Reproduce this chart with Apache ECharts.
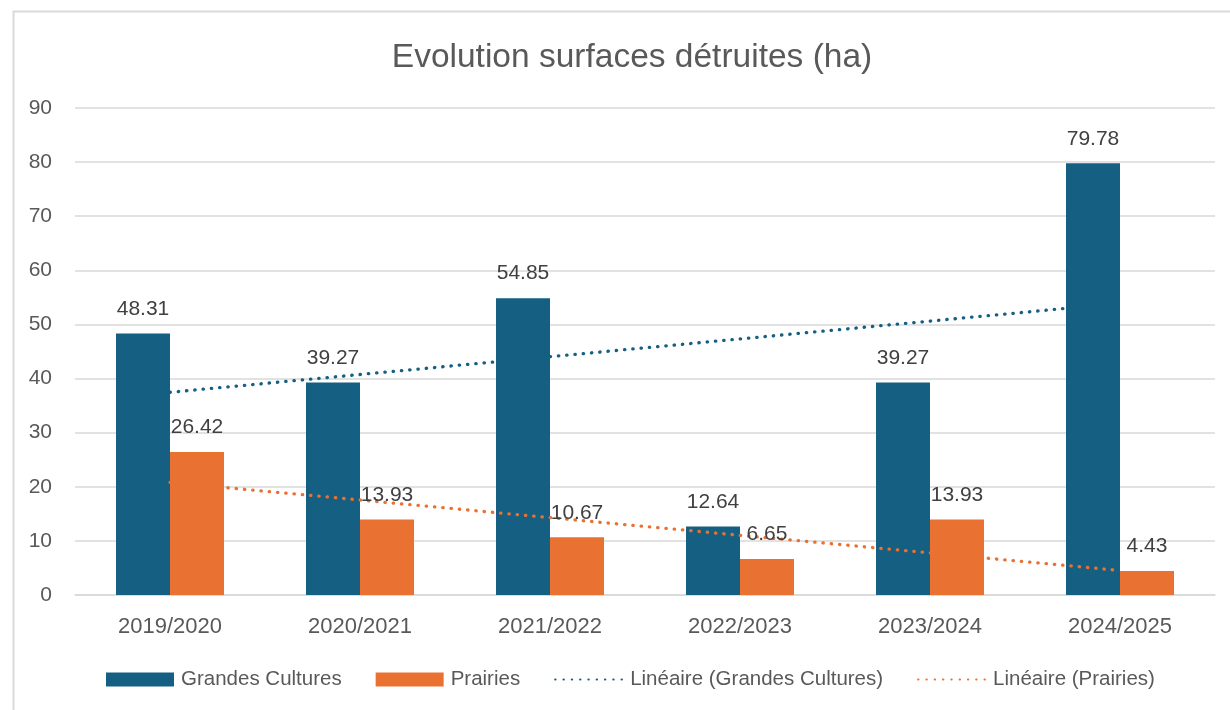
<!DOCTYPE html>
<html>
<head>
<meta charset="utf-8">
<script src="https://cdn.jsdelivr.net/npm/echarts@6/dist/echarts.min.js"></script>
<style>
html,body{margin:0;padding:0;background:#fff;}
#chart{width:1230px;height:710px;}
</style>
</head>
<body>
<div id="chart"></div>
<script>
var categories = ['2019/2020', '2020/2021', '2021/2022', '2022/2023', '2023/2024', '2024/2025'];
var grandesCultures = [48.31, 39.27, 54.85, 12.64, 39.27, 79.78];
var prairies = [26.42, 13.93, 10.67, 6.65, 13.93, 4.43];
// linear trend lines
var trendGrandesCultures = [37.46, 40.75, 44.04, 47.33, 50.62, 53.91];
var trendPrairies = [20.81, 17.56, 14.30, 11.04, 7.79, 4.53];
var seriesNames = ['Grandes Cultures', 'Prairies', 'Linéaire (Grandes Cultures)', 'Linéaire (Prairies)'];
var titleText = 'Evolution surfaces détruites (ha)';

var BLUE = '#156082', ORANGE = '#E97132';
var FONT = '"Liberation Sans", Arial, sans-serif';

var chart = echarts.init(document.getElementById('chart'), null, {renderer: 'canvas'});
var dotted = function (c) {
  return {color: c, width: 3.3, type: [0.4, 7.9], cap: 'round'};
};
var labelStyle = {show: true, position: 'top', distance: 14, color: '#404040', fontSize: 21, fontFamily: FONT,
  formatter: function (p) { return p.value.toFixed(2); }};

chart.setOption({
  animation: false,
  backgroundColor: '#ffffff',
  textStyle: {fontFamily: FONT},
  title: {
    text: titleText, left: 627, top: 36, textAlign: 'center',
    textStyle: {fontSize: 33.5, fontWeight: 'normal', color: '#595959', fontFamily: FONT}
  },
  graphic: [{
    type: 'rect', left: 11, top: 9, silent: true, z: -1,
    shape: {x: 0, y: 0, width: 1400, height: 900},
    style: {fill: 'none', stroke: '#d9d9d9', lineWidth: 2}
  }],
  grid: {left: 75, right: 15, top: 108, bottom: 115, containLabel: false},
  legend: {
    left: 106, top: 669, itemWidth: 68, itemHeight: 14, itemGap: 34, padding: 0,
    textStyle: {fontSize: 20.5, color: '#595959', fontFamily: FONT, padding: [0, 0, 0, 2]},
    data: [
      {name: seriesNames[0], icon: 'rect'},
      {name: seriesNames[1], icon: 'rect'},
      {name: seriesNames[2], itemStyle: {opacity: 0}},
      {name: seriesNames[3], itemStyle: {opacity: 0}}
    ]
  },
  xAxis: {
    type: 'category', data: categories,
    axisLine: {lineStyle: {color: '#d9d9d9', width: 1.5}},
    axisTick: {show: false},
    axisLabel: {fontSize: 22, color: '#595959', margin: 21, fontFamily: FONT}
  },
  yAxis: {
    type: 'value', min: 0, max: 90, interval: 10,
    axisLine: {show: false}, axisTick: {show: false},
    splitLine: {lineStyle: {color: '#d9d9d9', width: 1.5}},
    axisLabel: {fontSize: 21, color: '#595959', margin: 23, fontFamily: FONT}
  },
  series: [
    {
      name: seriesNames[2], type: 'line', data: trendGrandesCultures, z: 1,
      symbol: 'none', itemStyle: {color: BLUE}, lineStyle: dotted(BLUE)
    },
    {
      name: seriesNames[0], type: 'bar', data: grandesCultures, z: 2,
      barWidth: 54, barGap: '0%',
      itemStyle: {color: BLUE}, label: labelStyle
    },
    {
      name: seriesNames[3], type: 'line', data: trendPrairies, z: 3,
      symbol: 'none', itemStyle: {color: ORANGE}, lineStyle: dotted(ORANGE)
    },
    {
      name: seriesNames[1], type: 'bar', data: prairies, z: 4,
      barWidth: 54, barGap: '0%',
      itemStyle: {color: ORANGE}, label: labelStyle
    }
  ]
});
</script>
</body>
</html>
